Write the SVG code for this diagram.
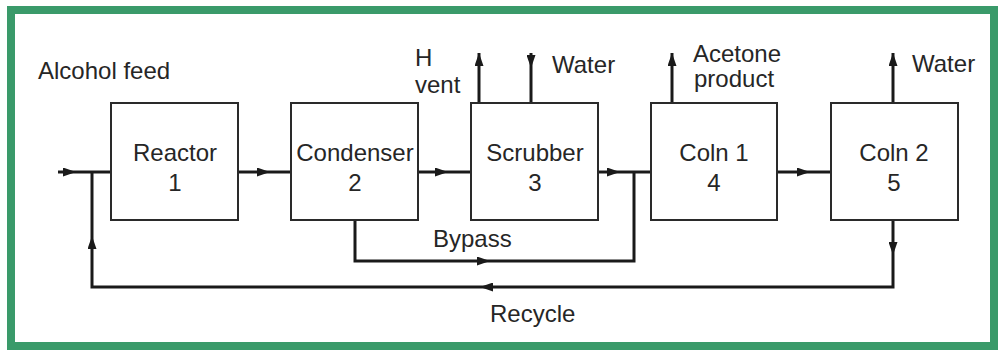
<svg xmlns="http://www.w3.org/2000/svg" width="1000" height="354" viewBox="0 0 1000 354">
<style>
.box{fill:#fff;stroke:#2a2a2a;stroke-width:2}
.ln{fill:none;stroke:#1a1a1a;stroke-width:3;stroke-linejoin:miter}
.t{font-family:"Liberation Sans",Arial,sans-serif;font-size:24px;fill:#262626}
.c{text-anchor:middle}
</style>
<defs>
<marker id="ah" viewBox="0 0 13 9" refX="13" refY="4.5" markerWidth="13" markerHeight="9" markerUnits="userSpaceOnUse" orient="auto">
<path d="M0,0 L13,4.5 L0,9 z" fill="#1a1a1a"/>
</marker>
</defs>
<rect x="0" y="0" width="1000" height="354" fill="#fff"/>
<rect x="11" y="10" width="983" height="336" fill="#fff" stroke="#3a9a6a" stroke-width="8"/>
<g id="connectors">
<path class="ln" d="M58,172 H76" marker-end="url(#ah)"/>
<path class="ln" d="M76,172 H111"/>
<path class="ln" d="M238,172 H270" marker-end="url(#ah)"/>
<path class="ln" d="M270,172 H291"/>
<path class="ln" d="M418,172 H448" marker-end="url(#ah)"/>
<path class="ln" d="M448,172 H471"/>
<path class="ln" d="M598,172 H620" marker-end="url(#ah)"/>
<path class="ln" d="M620,172 H651"/>
<path class="ln" d="M777,172 H810" marker-end="url(#ah)"/>
<path class="ln" d="M810,172 H831"/>
<path class="ln" d="M479,103 V53" marker-end="url(#ah)"/>
<path class="ln" d="M531,53 V68" marker-end="url(#ah)"/>
<path class="ln" d="M531,68 V103"/>
<path class="ln" d="M672,103 V53" marker-end="url(#ah)"/>
<path class="ln" d="M893,103 V53" marker-end="url(#ah)"/>
<path class="ln" d="M355,220 V261 H490" marker-end="url(#ah)"/>
<path class="ln" d="M490,261 H634 V172"/>
<path class="ln" d="M893,220 V255" marker-end="url(#ah)"/>
<path class="ln" d="M893,255 V287 H480" marker-end="url(#ah)"/>
<path class="ln" d="M480,287 H92 V236" marker-end="url(#ah)"/>
<path class="ln" d="M92,236 V172"/>
</g>
<g id="reactor"><rect class="box" x="111" y="103" width="127" height="117"/><text class="t c" x="175" y="161">Reactor</text><text class="t c" x="175" y="191">1</text></g>
<g id="condenser"><rect class="box" x="291" y="103" width="127" height="117"/><text class="t c" x="355" y="161">Condenser</text><text class="t c" x="355" y="191">2</text></g>
<g id="scrubber"><rect class="box" x="471" y="103" width="127" height="117"/><text class="t c" x="535" y="161">Scrubber</text><text class="t c" x="535" y="191">3</text></g>
<g id="coln1"><rect class="box" x="651" y="103" width="126" height="117"/><text class="t c" x="714" y="161">Coln 1</text><text class="t c" x="714" y="191">4</text></g>
<g id="coln2"><rect class="box" x="831" y="103" width="127" height="117"/><text class="t c" x="894" y="161">Coln 2</text><text class="t c" x="894" y="191">5</text></g>
<g id="labels">
<text class="t" x="38" y="79">Alcohol feed</text>
<text class="t" x="415" y="66">H</text>
<text class="t" x="415" y="93">vent</text>
<text class="t" x="552" y="73">Water</text>
<text class="t" x="693" y="62">Acetone</text>
<text class="t" x="694" y="87">product</text>
<text class="t" x="912" y="72">Water</text>
<text class="t" x="433" y="247">Bypass</text>
<text class="t" x="490" y="322">Recycle</text>
</g>
</svg>
